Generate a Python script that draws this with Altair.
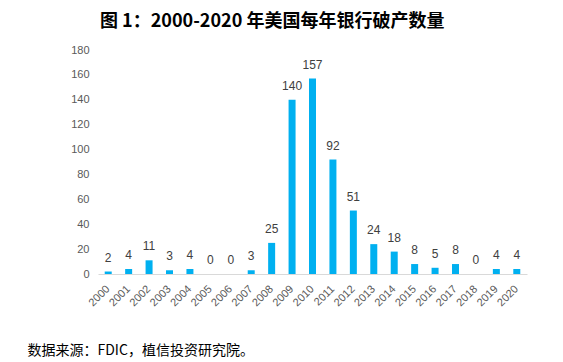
import altair as alt
import pandas as pd

years = [str(y) for y in range(2000, 2021)]
failures = [2, 4, 11, 3, 4, 0, 0, 3, 25, 140, 157, 92, 51, 24, 18, 8, 5, 8, 0, 4, 4]

df = pd.DataFrame({"year": years, "n": failures})

base = alt.Chart(df).encode(
    x=alt.X(
        "year:N",
        sort=years,
        scale=alt.Scale(paddingInner=0.0, paddingOuter=0.0),
        axis=alt.Axis(
            title="数据来源：FDIC，植信投资研究院。",
            titleX=-71,
            titleY=76,
            titleAnchor="start",
            titleAlign="left",
            titleBaseline="middle",
            titleFont="Noto Sans CJK SC",
            titleFontSize=14,
            titleFontWeight="normal",
            titleColor="#000000",
            labelAngle=-45,
            labelAlign="right",
            labelBaseline="middle",
            labelPadding=13,
            labelFont="Liberation Sans",
            labelFontSize=11,
            labelColor="#595959",
            ticks=False,
            domainColor="#D9D9D9",
            labelOverlap=False,
        ),
    ),
    y=alt.Y(
        "n:Q",
        scale=alt.Scale(domain=[0, 180]),
        axis=alt.Axis(
            title=None,
            values=list(range(0, 181, 20)),
            grid=False,
            ticks=False,
            domain=False,
            labelPadding=9,
            labelFont="Liberation Sans",
            labelFontSize=11,
            labelColor="#595959",
        ),
    ),
)

bars = base.mark_bar(size=7, color="#00B0F0")
labels = base.mark_text(
    baseline="bottom", dy=-7, font="Liberation Sans", fontSize=12, color="#404040"
).encode(text="n:Q")

chart = (
    alt.layer(bars, labels)
    .properties(
        width=429,
        height=224,
        autosize=alt.AutoSizeParams(type="none"),
        padding={"left": 90, "top": 42, "right": 20, "bottom": 100},
        title=alt.TitleParams(
            "图 1：2000-2020 年美国每年银行破产数量",
            anchor="start",
            frame="group",
            font="Noto Sans CJK SC",
            fontSize=18,
            fontWeight="bold",
            color="#000000",
            offset=13,
            dx=2,
        ),
    )
    .configure_view(stroke=None)
)

chart.save("out.html", embed_options={"renderer": "svg", "actions": False})
